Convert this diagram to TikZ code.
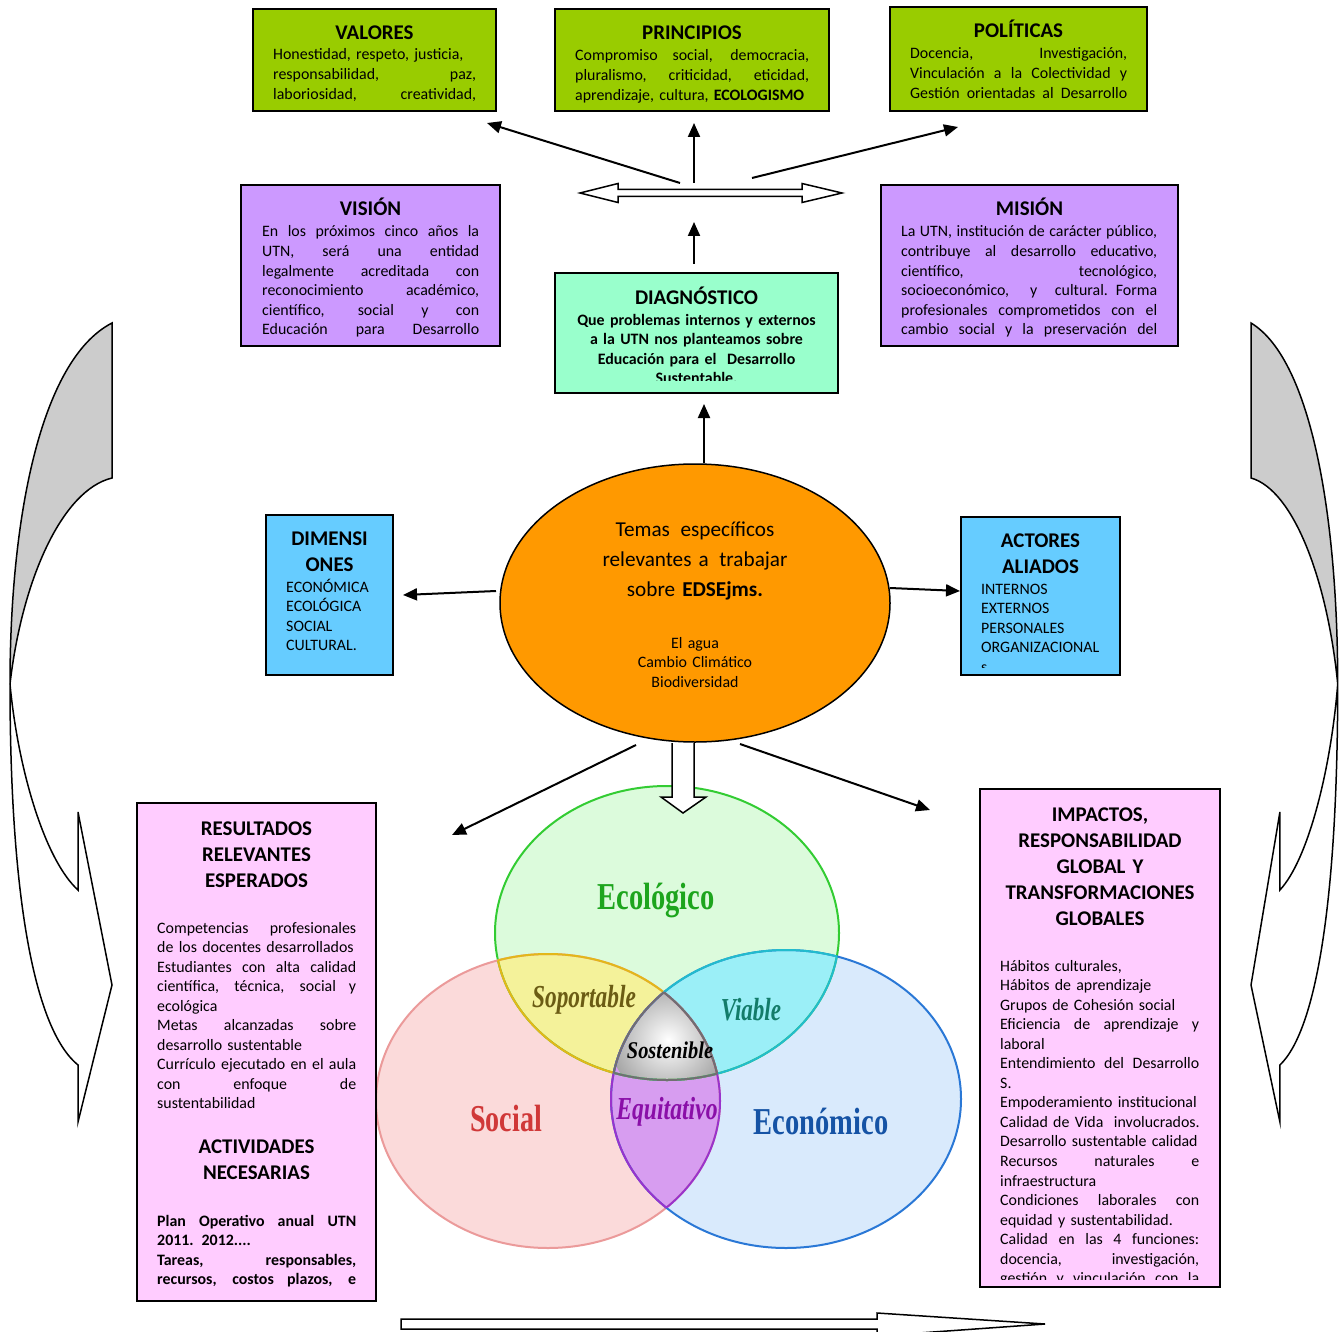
\documentclass[tikz,border=0pt]{standalone}
\usepackage{fontspec}
\setmainfont{Carlito}
\newfontfamily\vennfont{Liberation Serif}
\usepackage{graphicx}
\usetikzlibrary{arrows.meta,shapes.geometric}
\definecolor{cval}{HTML}{99CC00}
\definecolor{clav}{HTML}{CC99FF}
\definecolor{cmint}{HTML}{99FFCC}
\definecolor{csky}{HTML}{66CCFF}
\definecolor{cpink}{HTML}{FFCCFF}
\definecolor{corange}{HTML}{FF9900}
\definecolor{cgrey}{HTML}{CCCCCC}
\definecolor{vG}{HTML}{DCFBDC}
\definecolor{vR}{HTML}{FBDADA}
\definecolor{vB}{HTML}{D9EAFC}
\definecolor{vY}{HTML}{F4F29A}
\definecolor{vC}{HTML}{9BEFF7}
\definecolor{vP}{HTML}{D79DF0}
\definecolor{sG}{HTML}{33CC33}
\definecolor{sR}{HTML}{EB9A9A}
\definecolor{sB}{HTML}{2A78D6}
\definecolor{sY}{HTML}{E3B719}
\definecolor{sC}{HTML}{22BCCD}
\definecolor{sP}{HTML}{9933CC}
\definecolor{sK}{HTML}{707070}
\definecolor{tG}{HTML}{1DA51D}
\definecolor{tY}{HTML}{6B5C14}
\definecolor{tC}{HTML}{137C6A}
\definecolor{tR}{HTML}{D03838}
\definecolor{tP}{HTML}{8A0FA8}
\definecolor{tB}{HTML}{1553A5}
\newlength\bw
\newcommand\W[1]{\global\bw=#1pt\relax}
\newcommand\J[1]{\hbox to \bw{\spaceskip=0.25em plus 1fil\relax #1}}
\newcommand\Ln[1]{\hbox to \bw{#1\hss}}
\newcommand\EG{(667,933) ellipse [x radius=172pt, y radius=147pt]}
\newcommand\ER{(548,1101) ellipse [x radius=172pt, y radius=147pt]}
\newcommand\EB{(786,1099) ellipse [x radius=175pt, y radius=149pt]}
\tikzset{
  box/.style={draw=black, line width=2pt, anchor=north west, inner sep=0pt, outer sep=0pt},
  body/.style={anchor=base west, inner sep=0pt, font=\fontsize{15.9}{19.55}\selectfont},
  ttl/.style={anchor=base, inner sep=0pt, align=center, font=\bfseries\fontsize{20.9}{26}\selectfont},
  arr/.style={line width=2pt, -{Triangle[length=14pt,width=12pt]}},
  hollow/.style={draw=black, line width=1.5pt, fill=white, line join=miter},
  venn/.style={inner sep=0pt, font=\vennfont\bfseries\fontsize{38}{38}\selectfont},
  vennit/.style={inner sep=0pt, font=\vennfont\bfseries\itshape\fontsize{32}{32}\selectfont},
  curv/.style={draw=black, line width=1.5pt},
}
\begin{document}
\begin{tikzpicture}[x=1pt,y=-1pt]
\useasboundingbox (0,0) rectangle (1343,1332);

% ---------- side curved arrows ----------
\foreach \sx/\sh in {1/0, -0.85/1346.2}{
\begin{scope}[xshift=\sh pt, xscale=\sx]
  \fill[white] (112,323) .. controls (40,360) and (10,520) .. (10,684)
     .. controls (10,900) and (35,1030) .. (78,1065) -- (78,1122) -- (112,985)
     -- (78,812) -- (78,890) .. controls (45,860) and (18,770) .. (10,684)
     .. controls (22,580) and (62,490) .. (112,478) -- cycle;
  \fill[cgrey] (112,323) .. controls (40,360) and (10,520) .. (10,684)
     .. controls (22,580) and (62,490) .. (112,478) -- cycle;
  \draw[curv] (112,323) .. controls (40,360) and (10,520) .. (10,684)
     .. controls (10,900) and (35,1030) .. (78,1065) -- (78,1122) -- (112,985)
     -- (78,812) -- (78,890) .. controls (45,860) and (18,770) .. (10,684)
     .. controls (22,580) and (62,490) .. (112,478) -- cycle;
\end{scope}}

% ---------- top green boxes ----------
\node[box, fill=cval, minimum width=243pt, minimum height=102pt] (valores) at (253,9) {};
\node[ttl, text width=240pt] (valorest) at (374.5,40) {VALORES};
\node[body, text width=203pt] (valoresb) at (273,60) {\W{203}\Ln{Honestidad, respeto, justicia,}\par
  \J{responsabilidad, paz,}\par \J{laboriosidad, creatividad,}};

\node[box, fill=cval, minimum width=274pt, minimum height=102pt] (principios) at (555,9) {};
\node[ttl, text width=270pt] (principiost) at (692,40) {PRINCIPIOS};
\node[body, text width=234pt] (principiosb) at (575,61) {\W{234}\J{Compromiso social, democracia,}\par
  \J{pluralismo, criticidad, eticidad,}\par \Ln{aprendizaje, cultura, \textbf{ECOLOGISMO}}};

\node[box, fill=cval, minimum width=257pt, minimum height=104pt] (politicas) at (890,7) {};
\node[ttl, text width=250pt] (politicast) at (1018.5,38) {POLÍTICAS};
\node[body, text width=217pt] (politicasb) at (910,59) {\W{217}\J{Docencia, Investigación,}\par
  \J{Vinculación a la Colectividad y}\par \J{Gestión orientadas al Desarrollo}};

% ---------- double arrow ----------
\draw[hollow] (580,193) -- (618,183.5) -- (618,189.5) -- (802,189.5) -- (802,183.5) -- (842,193)
  -- (802,202.5) -- (802,196.5) -- (618,196.5) -- (618,202.5) -- cycle;
\coordinate (dUL) at (680,183);
\coordinate (dUC) at (694,183);
\coordinate (dUR) at (752,178);
\coordinate (dB) at (694,222);
\coordinate (tV) at (487,123);
\coordinate (tP) at (694,123);
\coordinate (tPo) at (958,127);
\draw[arr] (dUL) -- (tV);
\draw[arr] (dUC) -- (tP);
\draw[arr] (dUR) -- (tPo);

% ---------- vision / mision ----------
\node[box, fill=clav, minimum width=259pt, minimum height=161pt] (vision) at (241,185) {};
\node[ttl, text width=250pt] (visiont) at (370.5,216) {VISIÓN};
\node[body, text width=217pt] (visionb) at (262,237) {\W{217}\J{En los próximos cinco años la}\par
  \J{UTN, será una entidad}\par \J{legalmente acreditada con}\par
  \J{reconocimiento académico,}\par \J{científico, social y con}\par
  \J{Educación para Desarrollo}};

\node[box, fill=clav, minimum width=297pt, minimum height=161pt] (mision) at (881,185) {};
\node[ttl, text width=290pt] (misiont) at (1029.5,216) {MISIÓN};
\node[body, text width=256pt] (misionb) at (901,237) {\W{256}\J{La UTN, institución de carácter público,}\par
  \J{contribuye al desarrollo educativo,}\par \J{científico, tecnológico,}\par
  \J{socioeconómico, y cultural. Forma}\par \J{profesionales comprometidos con el}\par
  \J{cambio social y la preservación del}};

% ---------- diagnostico ----------
\node[box, fill=cmint, minimum width=283pt, minimum height=120pt] (diag) at (555,273) {};
\node[ttl, text width=280pt] (diagt) at (696.5,304) {DIAGNÓSTICO};
\begin{scope}
  \clip (555,273) rectangle (838,380);
  \node[body, anchor=base, text width=280pt, align=center, font=\bfseries\fontsize{15.9}{19.55}\selectfont] (diagb) at (696.5,325)
    {Que problemas internos y externos\\ a la UTN nos planteamos sobre\\ Educación para el\ \ Desarrollo\\ Sustentable.};
\end{scope}
\coordinate (diagTop) at (694,264);
\draw[arr] (diagTop) -- (dB);

% ---------- central ellipse ----------
\node[draw=black, line width=1.5pt, fill=corange, ellipse, inner sep=0pt, minimum width=390pt, minimum height=278pt] (tema) at (695,603) {};
\node[anchor=base, inner sep=0pt, text width=330pt, align=center, font=\fontsize{21.2}{30}\selectfont] (temat) at (695,536)
  {Temas\ \,específicos\\ relevantes a\ \,trabajar\\ sobre \textbf{EDSEjms.}};
\node[body, anchor=base, text width=250pt, align=center] (temab) at (695,648)
  {El agua\\ Cambio Climático\\ Biodiversidad};
\coordinate (eTop) at (704,463);
\coordinate (diagBot) at (704,404);
\draw[arr] (eTop) -- (diagBot);

% ---------- dimensiones / actores ----------
\node[box, fill=csky, minimum width=127pt, minimum height=160pt] (dim) at (266,515) {};
\node[ttl, text width=125pt] (dimt) at (329.5,545) {DIMENSI\\ ONES};
\node[body, text width=105pt] (dimb) at (286,592) {ECONÓMICA\par ECOLÓGICA\par SOCIAL\par CULTURAL.};

\node[box, fill=csky, minimum width=159pt, minimum height=158pt] (act) at (961,517) {};
\node[ttl, text width=155pt] (actt) at (1040.5,547) {ACTORES\\ ALIADOS};
\begin{scope}
  \clip (961,517) rectangle (1120,667);
  \node[body, text width=135pt] (actb) at (981,594) {INTERNOS\par EXTERNOS\par PERSONALES\par ORGANIZACIONAL\par s};
\end{scope}
\coordinate (eL) at (496,591);
\coordinate (dimR) at (403,595);
\coordinate (eR) at (890,588);
\coordinate (actL) at (960,591);
\draw[arr] (eL) -- (dimR);
\draw[arr] (eR) -- (actL);

% ---------- Venn ----------
\fill[vG] \EG;
\fill[vR] \ER;
\fill[vB] \EB;
\begin{scope} \clip \EG; \fill[vY] \ER; \fill[vC] \EB; \end{scope}
\begin{scope} \clip \ER; \fill[vP] \EB; \end{scope}
\begin{scope} \clip \EG; \clip \ER; \clip \EB;
  \shade[inner color=white, outer color=black!35] (668,1040) circle (58pt);
\end{scope}
\begin{scope}[line width=2pt]
  \draw[sG] \EG; \draw[sR] \ER; \draw[sB] \EB;
  \begin{scope} \clip \EG; \draw[sY] \ER; \draw[sC] \EB; \end{scope}
  \begin{scope} \clip \ER; \draw[sY] \EG; \draw[sP] \EB; \end{scope}
  \begin{scope} \clip \EB; \draw[sC] \EG; \draw[sP] \ER; \end{scope}
  \begin{scope} \clip \EG; \clip \ER; \draw[sK] \EB; \end{scope}
  \begin{scope} \clip \EG; \clip \EB; \draw[sK] \ER; \end{scope}
  \begin{scope} \clip \ER; \clip \EB; \draw[sK] \EG; \end{scope}
\end{scope}
\node[venn, text=tG] (vEco) at (656,900) {\scalebox{0.75}[1]{Ecológico}};
\node[venn, text=tR] (vSoc) at (506,1118) {\scalebox{0.74}[1]{Social}};
\node[venn, text=tB] (vEcon) at (821,1121) {\scalebox{0.75}[1]{Económico}};
\node[vennit, text=tY] (vSop) at (584,1000) {\scalebox{0.73}[1]{Soportable}};
\node[vennit, text=tC] (vVia) at (751,1010) {\scalebox{0.72}[1]{Viable}};
\node[vennit, text=tP] (vEqu) at (667,1112) {\scalebox{0.74}[1]{Equitativo}};
\node[vennit, text=black, font=\vennfont\bfseries\itshape\fontsize{24}{24}\selectfont] (vSos) at (670,1050) {\scalebox{0.85}[1]{Sostenible}};

% ---------- arrows below ellipse ----------
\coordinate (eBL) at (636,745);
\coordinate (resTR) at (452,835);
\coordinate (eBR) at (740,744);
\coordinate (impTL) at (930,810);
\draw[arr] (eBL) -- (resTR);
\draw[arr] (eBR) -- (impTL);
\draw[hollow] (672,743) -- (672,797) -- (661,797) -- (683,813) -- (706,797) -- (694,797) -- (694,743);

% ---------- resultados ----------
\node[box, fill=cpink, minimum width=239pt, minimum height=498pt] (res) at (137,803) {};
\node[ttl, text width=235pt] (rest) at (256.5,835) {RESULTADOS\\ RELEVANTES\\ ESPERADOS};
\node[body, text width=199pt] (resb) at (157,933) {\W{199}\J{Competencias profesionales}\par
  \Ln{de los docentes desarrollados}\par \J{Estudiantes con alta calidad}\par
  \J{científica, técnica, social y}\par \Ln{ecológica}\par
  \J{Metas alcanzadas sobre}\par \Ln{desarrollo sustentable}\par
  \J{Currículo ejecutado en el aula}\par \J{con enfoque de}\par \Ln{sustentabilidad}};
\node[ttl, text width=235pt] (actvt) at (256.5,1153) {ACTIVIDADES\\ NECESARIAS};
\node[body, text width=199pt, font=\bfseries\fontsize{15.9}{19.55}\selectfont] (actvb) at (157,1226)
  {\W{199}\J{Plan Operativo anual UTN}\par \Ln{2011. 2012....}\par
  \J{Tareas, responsables,}\par \J{recursos, costos plazos, e}};

% ---------- impactos ----------
\node[box, fill=cpink, minimum width=240pt, minimum height=498pt] (imp) at (980,789) {};
\node[ttl, text width=236pt] (impt) at (1100,821) {IMPACTOS,\\ RESPONSABILIDAD\\ GLOBAL Y\\ TRANSFORMACIONES\\ GLOBALES};
\begin{scope}
  \clip (980,789) rectangle (1220,1279);
  \node[body, text width=199pt] (impb) at (1000,971) {\W{199}\Ln{Hábitos culturales,}\par
    \Ln{Hábitos de aprendizaje}\par \Ln{Grupos de Cohesión social}\par
    \J{Eficiencia de aprendizaje y}\par \Ln{laboral}\par
    \J{Entendimiento del Desarrollo}\par \Ln{S.}\par
    \Ln{Empoderamiento institucional}\par \Ln{Calidad de Vida\ \ involucrados.}\par
    \Ln{Desarrollo sustentable calidad}\par \J{Recursos naturales e}\par
    \Ln{infraestructura}\par \J{Condiciones laborales con}\par
    \Ln{equidad y sustentabilidad.}\par \J{Calidad en las 4 funciones:}\par
    \J{docencia, investigación,}\par \J{gestión y vinculación con la}};
\end{scope}

% ---------- bottom hollow arrow ----------
\draw[hollow] (401,1319) -- (877,1319) -- (877,1313) -- (1045,1324) -- (877,1336) -- (877,1329) -- (401,1329) -- cycle;
\end{tikzpicture}
\end{document}
